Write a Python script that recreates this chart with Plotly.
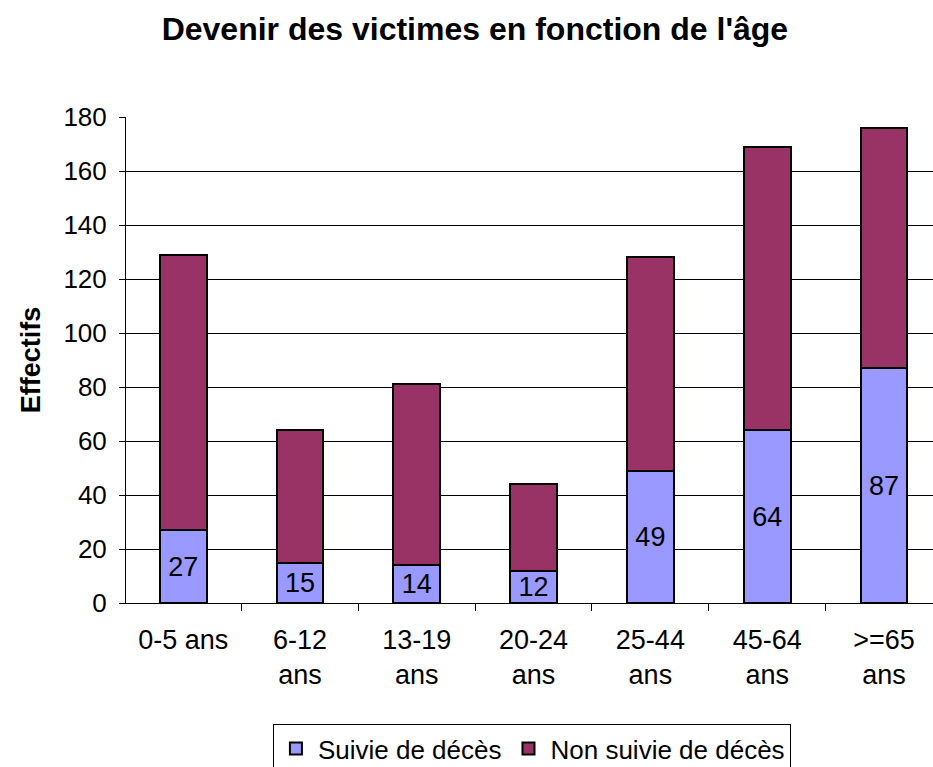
import plotly.graph_objects as go

categories = ["0-5 ans", "6-12<br>ans", "13-19<br>ans", "20-24<br>ans", "25-44<br>ans", "45-64<br>ans", ">=65<br>ans"]
suivie = [27, 15, 14, 12, 49, 64, 87]
totals = [129, 64, 81, 44, 128, 169, 176]
non_suivie = [t - s for t, s in zip(totals, suivie)]
y_ticks = [0, 20, 40, 60, 80, 100, 120, 140, 160, 180]

FONT = "Liberation Sans, Arial, sans-serif"
xs = list(range(len(categories)))

fig = go.Figure()
fig.add_trace(go.Bar(
    x=xs, y=suivie, name="Suivie de décès", width=0.4,
    marker=dict(color="#9999FF", line=dict(color="black", width=2)),
    text=[str(v) for v in suivie], textposition="inside", insidetextanchor="middle",
    constraintext="none", textfont=dict(size=27, color="black", family=FONT),
))
fig.add_trace(go.Bar(
    x=xs, y=non_suivie, name="Non suivie de décès", width=0.4,
    marker=dict(color="#993366", line=dict(color="black", width=2)),
))
# invisible trace on xaxis2 to draw boundary ticks
fig.add_trace(go.Scatter(x=[0], y=[0], xaxis="x2", mode="markers",
                         marker=dict(opacity=0), showlegend=False, hoverinfo="skip"))

fig.update_layout(
    width=933, height=767,
    barmode="stack",
    paper_bgcolor="white", plot_bgcolor="white",
    font=dict(family=FONT, size=26, color="black"),
    margin=dict(l=126, r=0, t=117, b=164, autoexpand=False),
    title=dict(text="<b>Devenir des victimes en fonction de l'âge</b>",
               x=0.509, xanchor="center", y=0.962, yanchor="middle",
               font=dict(size=32, family=FONT)),
    xaxis=dict(range=[-0.49, 6.42], tickvals=xs, ticktext=categories,
               ticks="", showgrid=False, zeroline=False, showline=False,
               tickfont=dict(size=27), automargin=False, ticklabelstandoff=18),
    xaxis2=dict(range=[-0.49, 6.42], overlaying="x", side="bottom",
                tickvals=[i - 0.5 for i in range(len(categories) + 1)],
                showticklabels=False, ticks="outside", ticklen=7, tickcolor="black",
                showgrid=False, zeroline=False, showline=True, linecolor="black",
                linewidth=1, automargin=False),
    yaxis=dict(range=[0, 180], tickvals=y_ticks, ticks="outside", ticklen=6,
               tickcolor="black", showgrid=True, gridcolor="black", gridwidth=1,
               showline=True, linecolor="black", linewidth=1, zeroline=False,
               tickfont=dict(size=26), automargin=False, ticklabelstandoff=7,
               title=dict(text="<b>Effectifs</b>", font=dict(size=27), standoff=14)),
    legend=dict(orientation="h", x=0.503, xanchor="center", y=-0.35, yanchor="bottom",
                bordercolor="black", borderwidth=1, font=dict(size=26),
                traceorder="normal", itemwidth=34),
    showlegend=True,
)

fig.write_html("out.html", config={"displayModeBar": False},
               post_script="document.body.style.margin='0';")
